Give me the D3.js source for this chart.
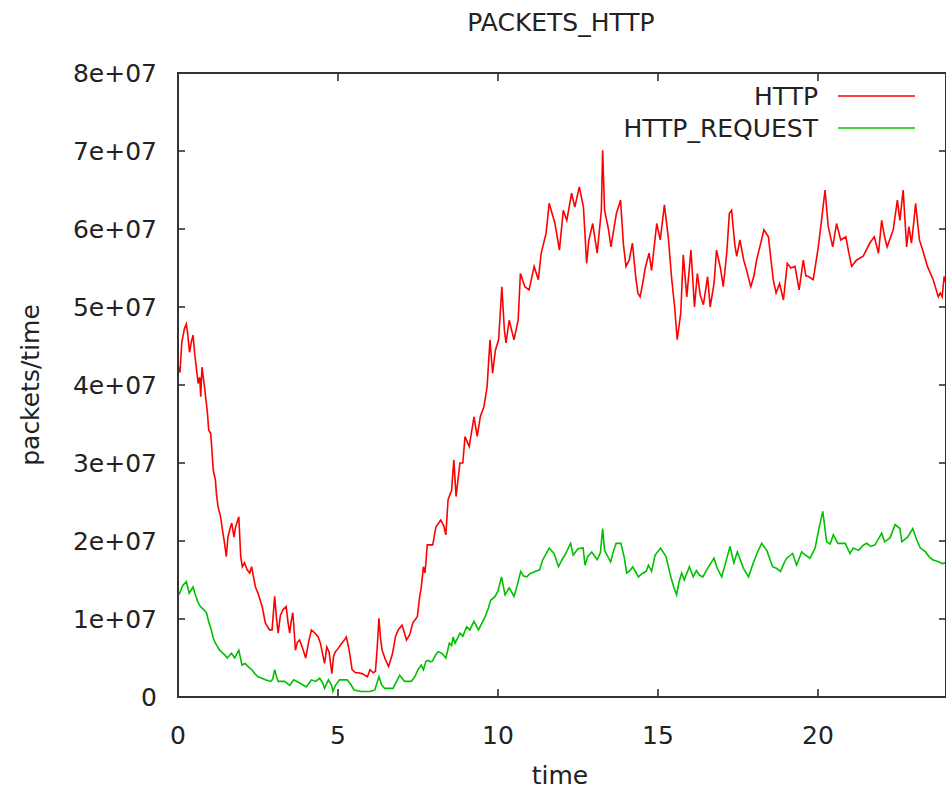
<!DOCTYPE html>
<html>
<head>
<meta charset="utf-8">
<script src="https://cdn.jsdelivr.net/npm/d3@7"></script>
<style>
body{margin:0;background:#fff}
text{font-family:"DejaVu Sans",sans-serif;fill:#222}
</style>
</head>
<body>
<svg width="946" height="796"></svg>
<script>
// series values in millions of packets, [hour, value]
var httpPts = [[0.00,42.5],[0.06,41.6],[0.12,45.5],[0.2,47.2],[0.26,47.8],[0.31,46.3],[0.36,44.2],[0.42,45.6],[0.47,46.4],[0.52,44.1],[0.57,42.3],[0.63,40.2],[0.68,41.0],[0.71,38.5],[0.75,42.3],[0.79,41.0],[0.85,39.0],[0.92,36.4],[0.96,34.2],[1.02,33.8],[1.06,31.7],[1.1,29.1],[1.17,27.8],[1.2,26.1],[1.25,24.4],[1.33,23.1],[1.39,21.4],[1.44,20.1],[1.51,18.0],[1.56,20.5],[1.64,21.8],[1.68,22.3],[1.75,20.5],[1.8,21.8],[1.9,23.1],[1.96,18.0],[2.01,16.7],[2.08,17.2],[2.16,16.3],[2.24,15.9],[2.3,16.7],[2.42,14.1],[2.5,13.3],[2.63,11.6],[2.73,9.5],[2.86,8.6],[2.94,8.6],[3.02,12.9],[3.08,10.0],[3.13,8.2],[3.2,10.5],[3.28,11.2],[3.38,11.6],[3.44,9.5],[3.49,8.2],[3.54,9.8],[3.59,10.8],[3.67,6.0],[3.73,7.0],[3.8,7.3],[3.9,6.2],[3.99,5.0],[4.08,7.0],[4.17,8.6],[4.28,8.2],[4.38,7.7],[4.45,6.9],[4.52,5.5],[4.58,4.3],[4.65,6.4],[4.72,5.8],[4.78,3.9],[4.81,3.0],[4.86,5.2],[4.92,5.8],[5.0,6.2],[5.1,6.8],[5.18,7.2],[5.26,7.7],[5.35,6.0],[5.44,3.5],[5.55,3.1],[5.63,3.1],[5.75,3.0],[5.92,2.6],[6.0,3.5],[6.1,3.1],[6.17,3.3],[6.22,6.0],[6.28,10.1],[6.33,7.5],[6.38,6.0],[6.48,4.8],[6.58,3.9],[6.7,5.5],[6.8,7.8],[6.88,8.6],[7.0,9.2],[7.07,8.3],[7.14,7.3],[7.24,8.0],[7.34,9.5],[7.48,10.3],[7.55,12.8],[7.6,14.0],[7.67,16.7],[7.72,15.9],[7.79,19.5],[7.96,19.5],[8.06,21.8],[8.21,22.7],[8.3,22.0],[8.37,20.8],[8.44,25.3],[8.55,26.5],[8.62,30.4],[8.69,25.7],[8.81,30.0],[8.9,30.0],[8.97,33.4],[9.1,32.1],[9.25,35.9],[9.35,33.4],[9.45,36.0],[9.56,37.2],[9.66,39.8],[9.75,45.8],[9.83,41.5],[9.92,44.5],[10.02,45.8],[10.12,52.6],[10.2,47.0],[10.25,45.4],[10.35,48.3],[10.5,45.8],[10.63,48.3],[10.7,54.3],[10.84,52.6],[10.97,52.2],[11.13,55.2],[11.26,53.5],[11.35,56.9],[11.5,59.4],[11.6,63.3],[11.78,60.7],[11.92,57.3],[12.04,62.4],[12.15,61.1],[12.3,64.6],[12.4,62.8],[12.54,65.4],[12.67,62.8],[12.77,55.6],[12.84,58.6],[12.96,60.7],[13.1,56.9],[13.23,62.4],[13.27,70.1],[13.33,62.4],[13.45,60.0],[13.53,57.7],[13.7,62.0],[13.83,63.7],[13.92,58.0],[14.0,55.2],[14.1,56.0],[14.2,58.2],[14.3,54.0],[14.37,51.8],[14.44,51.3],[14.52,53.0],[14.6,55.0],[14.72,56.9],[14.8,54.7],[14.96,60.7],[15.07,58.6],[15.2,63.1],[15.32,59.0],[15.43,53.5],[15.52,50.0],[15.6,45.8],[15.71,49.2],[15.79,56.7],[15.9,51.3],[16.03,57.3],[16.14,50.0],[16.23,54.3],[16.32,51.5],[16.42,50.3],[16.55,53.9],[16.63,50.0],[16.75,53.0],[16.83,57.3],[16.95,55.0],[17.04,52.6],[17.15,57.0],[17.23,62.0],[17.3,62.4],[17.4,58.0],[17.46,56.5],[17.56,58.6],[17.68,56.0],[17.77,54.7],[17.9,52.6],[18.0,54.0],[18.08,56.0],[18.2,58.0],[18.31,59.9],[18.45,59.0],[18.6,53.5],[18.69,51.8],[18.8,53.0],[18.92,50.9],[19.04,55.6],[19.15,55.0],[19.28,55.2],[19.41,52.2],[19.54,56.0],[19.62,54.0],[19.7,53.9],[19.85,53.5],[20.01,57.7],[20.11,61.1],[20.22,65.0],[20.32,60.3],[20.46,57.7],[20.58,60.7],[20.71,58.6],[20.87,59.0],[20.96,57.0],[21.05,55.2],[21.2,56.0],[21.41,56.5],[21.62,58.2],[21.76,59.0],[21.89,56.9],[21.99,61.1],[22.08,59.0],[22.16,57.7],[22.35,59.9],[22.48,63.7],[22.56,61.1],[22.66,65.0],[22.77,57.7],[22.84,60.3],[22.92,58.2],[23.0,61.1],[23.05,63.3],[23.17,58.6],[23.27,57.3],[23.42,55.2],[23.6,53.5],[23.76,51.3],[23.82,51.8],[23.88,51.3],[23.94,53.9],[24.0,53.0]];

var requestPts = [[0.0,13.0],[0.05,13.3],[0.15,14.3],[0.26,14.8],[0.35,13.3],[0.47,14.1],[0.55,13.0],[0.62,12.2],[0.7,11.6],[0.8,11.2],[0.89,10.8],[0.96,9.6],[1.04,8.6],[1.1,7.6],[1.17,6.9],[1.3,6.0],[1.38,5.7],[1.46,5.4],[1.54,5.0],[1.67,5.6],[1.77,5.0],[1.9,6.0],[2.0,4.1],[2.1,4.3],[2.19,3.9],[2.31,3.5],[2.4,3.0],[2.5,2.6],[2.62,2.4],[2.73,2.2],[2.9,2.0],[2.96,2.3],[3.02,3.5],[3.08,2.6],[3.13,2.0],[3.33,2.0],[3.49,1.5],[3.62,2.2],[3.8,1.8],[4.01,1.3],[4.1,1.8],[4.17,2.2],[4.3,2.0],[4.43,2.4],[4.52,1.8],[4.58,1.1],[4.7,2.2],[4.8,1.5],[4.84,0.7],[4.92,1.5],[5.05,2.2],[5.29,2.2],[5.4,1.6],[5.5,0.9],[5.73,0.7],[6.0,0.7],[6.15,0.9],[6.28,2.6],[6.36,1.6],[6.46,1.1],[6.72,1.1],[6.83,2.0],[6.93,2.8],[7.08,2.0],[7.29,2.0],[7.4,2.6],[7.5,3.5],[7.6,4.1],[7.67,3.5],[7.75,4.6],[7.83,4.7],[7.88,4.5],[7.95,4.6],[8.05,5.4],[8.13,5.8],[8.25,5.6],[8.37,5.0],[8.48,6.9],[8.55,6.6],[8.6,7.7],[8.66,6.9],[8.81,8.2],[8.9,7.8],[9.02,9.0],[9.12,8.6],[9.25,9.7],[9.39,8.6],[9.5,9.5],[9.6,10.3],[9.7,11.4],[9.77,12.4],[9.91,12.9],[10.0,13.6],[10.11,15.4],[10.22,13.1],[10.35,14.0],[10.5,12.9],[10.6,14.3],[10.71,16.1],[10.8,15.5],[10.9,15.4],[11.0,15.8],[11.16,16.1],[11.3,16.3],[11.4,17.6],[11.6,19.1],[11.75,18.4],[11.89,16.7],[12.0,17.6],[12.09,18.2],[12.27,19.7],[12.35,18.2],[12.5,19.0],[12.66,19.1],[12.72,16.9],[12.8,18.0],[12.93,18.6],[13.1,17.6],[13.2,18.5],[13.27,21.6],[13.33,18.8],[13.52,17.3],[13.6,18.6],[13.69,19.7],[13.84,19.7],[13.95,17.8],[14.02,15.9],[14.12,16.2],[14.21,16.7],[14.39,15.4],[14.5,15.8],[14.63,16.1],[14.7,16.9],[14.8,16.1],[14.91,18.2],[15.08,19.1],[15.25,18.0],[15.4,15.4],[15.5,14.0],[15.58,13.1],[15.66,14.8],[15.74,15.9],[15.82,15.0],[15.98,16.7],[16.1,15.4],[16.2,16.2],[16.3,15.6],[16.4,15.4],[16.55,16.5],[16.75,17.8],[16.85,16.5],[16.99,15.4],[17.1,17.0],[17.25,19.3],[17.37,17.2],[17.48,18.6],[17.58,17.5],[17.67,16.5],[17.83,15.4],[17.98,17.2],[18.1,18.5],[18.24,19.7],[18.4,18.8],[18.58,16.7],[18.7,16.5],[18.83,16.1],[18.92,17.0],[19.02,17.8],[19.21,18.4],[19.33,16.9],[19.49,18.6],[19.6,18.2],[19.75,17.8],[19.91,19.1],[20.05,22.0],[20.15,23.8],[20.27,19.9],[20.38,19.6],[20.48,20.8],[20.62,19.7],[20.85,19.7],[21.0,18.4],[21.1,19.1],[21.27,18.8],[21.4,19.4],[21.52,19.7],[21.65,19.3],[21.78,19.5],[21.99,21.0],[22.08,19.9],[22.25,20.4],[22.41,22.1],[22.56,21.6],[22.62,19.9],[22.8,20.5],[22.96,21.6],[23.1,20.0],[23.2,19.1],[23.36,18.6],[23.47,18.0],[23.58,17.6],[23.79,17.3],[23.87,17.1],[24.0,17.2]];

var seriesNames = ['HTTP', 'HTTP_REQUEST'];
var seriesColors = ['#ff0000', '#00c000'];
var xTicks = [0, 5, 10, 15, 20];
var yTicks = [0, 1e7, 2e7, 3e7, 4e7, 5e7, 6e7, 7e7, 8e7];
var yTickLabels = ['0', '1e+07', '2e+07', '3e+07', '4e+07', '5e+07', '6e+07', '7e+07', '8e+07'];

var svg = d3.select('svg');
var plotL = 178, plotR = 946, plotT = 73, plotB = 697;

var x = d3.scaleLinear().domain([0, 24]).range([plotL, plotR]);
var y = d3.scaleLinear().domain([0, 8e7]).range([plotB, plotT]);

svg.append('clipPath').attr('id', 'clip').append('rect')
  .attr('x', plotL).attr('y', plotT).attr('width', plotR - plotL).attr('height', plotB - plotT);

var line = d3.line().x(function(d){ return x(d[0]); }).y(function(d){ return y(d[1] * 1e6); });

[httpPts, requestPts].forEach(function(pts, i){
  svg.append('path').datum(pts)
    .attr('d', line).attr('fill', 'none')
    .attr('stroke', seriesColors[i]).attr('stroke-width', 1.6)
    .attr('clip-path', 'url(#clip)');
});

// ticks on all four sides, pointing in
var tickCol = '#222';
var g = svg.append('g');
g.selectAll('.yt').data(yTicks).enter().append('line')
  .attr('x1', plotL).attr('x2', plotL + 7).attr('y1', y).attr('y2', y)
  .attr('stroke', tickCol).attr('stroke-width', 1.5);
g.selectAll('.yr').data(yTicks).enter().append('line')
  .attr('x1', plotR - 7).attr('x2', plotR).attr('y1', y).attr('y2', y)
  .attr('stroke', tickCol).attr('stroke-width', 1.5);
g.selectAll('.xt').data(xTicks).enter().append('line')
  .attr('x1', x).attr('x2', x).attr('y1', plotB).attr('y2', plotB - 8)
  .attr('stroke', tickCol).attr('stroke-width', 1.5);
g.selectAll('.xtt').data(xTicks).enter().append('line')
  .attr('x1', x).attr('x2', x).attr('y1', plotT).attr('y2', plotT + 8)
  .attr('stroke', tickCol).attr('stroke-width', 1.5);

svg.append('rect').attr('x', plotL).attr('y', plotT)
  .attr('width', plotR - plotL).attr('height', plotB - plotT)
  .attr('fill', 'none').attr('stroke', '#333').attr('stroke-width', 2);

// labels
svg.selectAll('.ylab').data(yTicks).enter().append('text')
  .attr('x', 157).attr('y', function(d){ return y(d) + 9; })
  .attr('text-anchor', 'end').style('font-size', '25px')
  .text(function(d, i){ return yTickLabels[i]; });
svg.selectAll('.xlab').data(xTicks).enter().append('text')
  .attr('x', x).attr('y', 744)
  .attr('text-anchor', 'middle').style('font-size', '25px')
  .text(function(d){ return d; });

svg.append('text').attr('x', 561).attr('y', 31).attr('text-anchor', 'middle')
  .style('font-size', '25px').text('PACKETS_HTTP');
svg.append('text').attr('x', 560).attr('y', 784).attr('text-anchor', 'middle')
  .style('font-size', '25px').text('time');
svg.append('text').attr('transform', 'translate(39,385) rotate(-90)')
  .attr('text-anchor', 'middle').style('font-size', '25px').text('packets/time');

// legend
seriesNames.forEach(function(name, i){
  var ly = 96 + i * 32;
  svg.append('text').attr('x', 818).attr('y', ly + 9).attr('text-anchor', 'end')
    .style('font-size', '25px').text(name);
  svg.append('line').attr('x1', 838).attr('x2', 915).attr('y1', ly).attr('y2', ly)
    .attr('stroke', seriesColors[i]).attr('stroke-width', 1.6);
});
</script>
</body>
</html>
